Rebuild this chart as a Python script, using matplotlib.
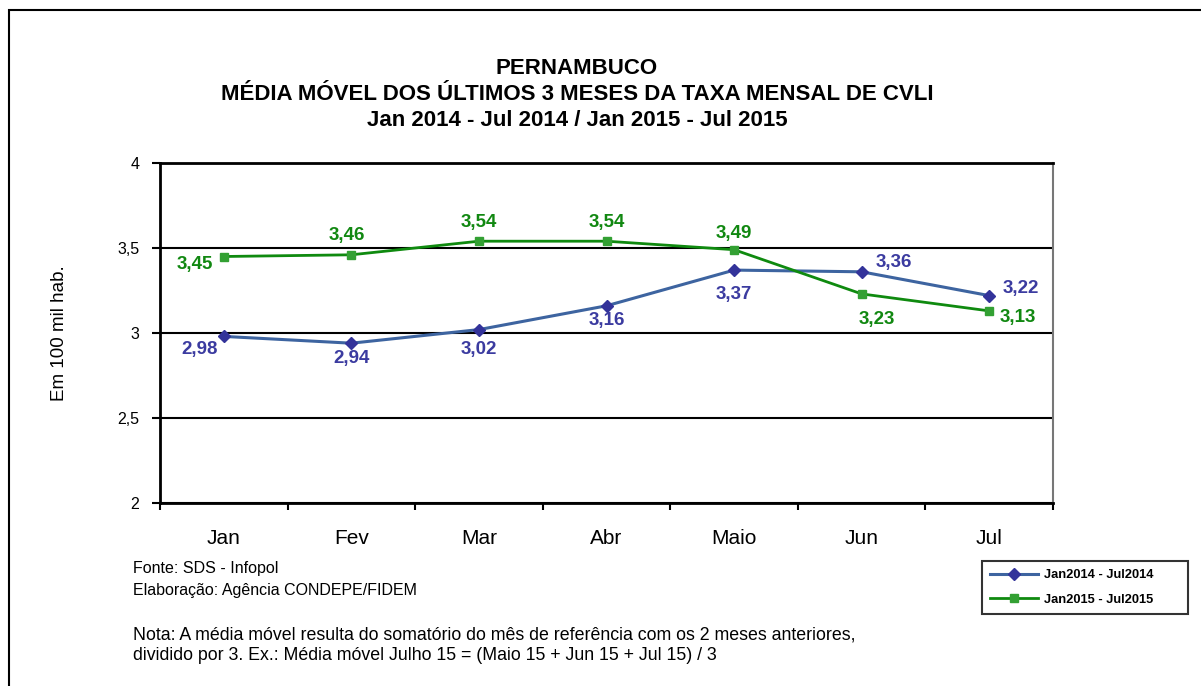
import matplotlib
matplotlib.use("Agg")
import matplotlib.pyplot as plt
from matplotlib.patches import Rectangle
from matplotlib.ticker import FuncFormatter

plt.rcParams['font.family'] = ['Liberation Sans', 'DejaVu Sans']

# dados
meses = ['Jan', 'Fev', 'Mar', 'Abr', 'Maio', 'Jun', 'Jul']
taxa_2014 = [2.98, 2.94, 3.02, 3.16, 3.37, 3.36, 3.22]
taxa_2015 = [3.45, 3.46, 3.54, 3.54, 3.49, 3.23, 3.13]
serie_2014 = 'Jan2014 - Jul2014'
serie_2015 = 'Jan2015 - Jul2015'

# deslocamento dos rótulos (pixels)
off_2014 = [(-24, -13), (0, -15), (0, -20), (0, -15), (0, -24), (32, 9), (32, 7)]
off_2015 = [(-29, -8), (-5, 19), (0, 19), (0, 19), (0, 16), (15, -26), (29, -7)]

azul_linha = '#3D64A0'
azul_marc = '#33339A'
azul_txt = '#3B3BA0'
verde_linha = '#0F8A0F'
verde_marc = '#33A033'
verde_txt = '#118811'

fig = plt.figure(figsize=(12.01, 6.86), dpi=100)
ax = fig.add_axes([160 / 1201, 1 - 503 / 686, 893 / 1201, 340 / 686])

x = list(range(len(meses)))
ax.plot(x, taxa_2014, color=azul_linha, lw=2.2, marker='D', ms=6,
        mfc=azul_marc, mec=azul_marc, label=serie_2014, zorder=3)
ax.plot(x, taxa_2015, color=verde_linha, lw=2.0, marker='s', ms=6,
        mfc=verde_marc, mec=verde_marc, label=serie_2015, zorder=3)

for i, v in enumerate(taxa_2014):
    ax.annotate(f'{v:.2f}'.replace('.', ','), (i, v), xytext=off_2014[i],
                textcoords='offset pixels', ha='center', va='center',
                fontsize=13.5, fontweight='bold', color=azul_txt)
for i, v in enumerate(taxa_2015):
    ax.annotate(f'{v:.2f}'.replace('.', ','), (i, v), xytext=off_2015[i],
                textcoords='offset pixels', ha='center', va='center',
                fontsize=13.5, fontweight='bold', color=verde_txt)

ax.set_xlim(-0.5, len(meses) - 0.5)
ax.set_ylim(2, 4)
ax.set_yticks([2, 2.5, 3, 3.5, 4])
ax.yaxis.set_major_formatter(FuncFormatter(lambda v, p: f'{v:g}'.replace('.', ',')))
ax.grid(axis='y', color='black', lw=1.5)
ax.set_axisbelow(True)

ax.set_xticks([i - 0.5 for i in range(len(meses) + 1)], minor=False)
ax.set_xticklabels([])
ax.set_xticks(x, minor=True)
ax.set_xticklabels(meses, minor=True, fontsize=15)
ax.tick_params(axis='x', which='minor', length=0, pad=19)
ax.tick_params(axis='x', which='major', length=5, width=1.5, direction='out')
ax.tick_params(axis='y', length=6, width=1.5, labelsize=11.5, pad=9)

ax.spines['left'].set_linewidth(2)
ax.spines['bottom'].set_linewidth(2)
ax.spines['top'].set_linewidth(2)
ax.spines['right'].set_linewidth(1.5)
ax.spines['right'].set_color('#777777')

ax.set_ylabel('Em 100 mil hab.', fontsize=13.5)
ax.yaxis.set_label_coords((68 - 160) / 893, 0.5)

cx = 577 / 1201
fig.text(cx, 1 - 68 / 686, 'PERNAMBUCO', ha='center', va='center',
         fontsize=16, fontweight='bold')
fig.text(cx, 1 - 95 / 686, 'MÉDIA MÓVEL DOS ÚLTIMOS 3 MESES DA TAXA MENSAL DE CVLI',
         ha='center', va='center', fontsize=16, fontweight='bold')
fig.text(cx, 1 - 120 / 686, 'Jan 2014 - Jul 2014 / Jan 2015 - Jul 2015',
         ha='center', va='center', fontsize=16, fontweight='bold')

fig.text(133 / 1201, 1 - 568 / 686, 'Fonte: SDS - Infopol', va='center', fontsize=11.5)
fig.text(133 / 1201, 1 - 591 / 686, 'Elaboração: Agência CONDEPE/FIDEM', va='center', fontsize=11.5)
fig.text(133 / 1201, 1 - 635 / 686,
         'Nota: A média móvel resulta do somatório do mês de referência com os 2 meses anteriores,',
         va='center', fontsize=12.8)
fig.text(133 / 1201, 1 - 656 / 686,
         'dividido por 3. Ex.: Média móvel Julho 15 = (Maio 15 + Jun 15 + Jul 15) / 3',
         va='center', fontsize=12.8)

leg = fig.legend(loc='center', bbox_to_anchor=(982 / 1201, 1 - 614 / 686, 206 / 1201, 53 / 686),
                 mode='expand', prop={'size': 9.3, 'weight': 'bold'}, frameon=True,
                 fancybox=False, edgecolor='black', handlelength=3.7, handletextpad=0.5,
                 borderpad=0.6, borderaxespad=0, labelspacing=1.0)
leg.get_frame().set_linewidth(1.5)

# moldura externa
fig.patches.append(Rectangle((9 / 1201, -0.1), 1.2, 1.1 - 10 / 686, transform=fig.transFigure,
                             fill=False, edgecolor='black', lw=1.5))

fig.savefig('out.png', dpi=100)
